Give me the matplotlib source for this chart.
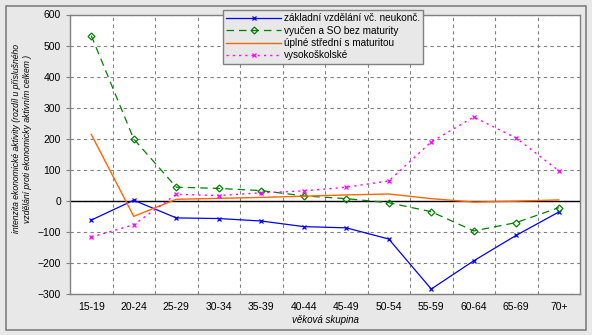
import matplotlib
matplotlib.use("Agg")
import matplotlib.pyplot as plt
from matplotlib.patches import Rectangle
import numpy as np

plt.rcParams['font.family'] = ['Liberation Sans', 'DejaVu Sans']

groups = ['15-19', '20-24', '25-29', '30-34', '35-39', '40-44',
          '45-49', '50-54', '55-59', '60-64', '65-69', '70+']
zakladni = [-62, 2, -55, -57, -65, -83, -87, -123, -284, -193, -111, -36]
vyucen = [532, 199, 44, 40, 33, 16, 7, -6, -35, -97, -70, -22]
uplne = [214, -50, 5, 8, 11, 15, 19, 22, 7, -4, -1, 3]
vysokoskolske = [-117, -77, 21, 17, 26, 32, 44, 64, 190, 270, 202, 97]

fig = plt.figure(figsize=(5.92, 3.35), dpi=100)
fig.patch.set_facecolor('#e8e8e8')
fig.patches.append(Rectangle((6 / 592, 5 / 335), 580 / 592, 324 / 335,
                             transform=fig.transFigure, fill=False,
                             edgecolor='#808080', linewidth=1.2))

ax = fig.add_axes([70 / 592, 1 - 294 / 335, 510 / 592, 279.5 / 335])
ax.set_facecolor('white')
x = np.arange(len(groups))

ax.plot(x, zakladni, color='#0000ff', lw=0.9, marker='x', ms=3, mew=0.9,
        label='základní vzdělání vč. neukonč.')
ax.plot(x, vyucen, color='#008000', lw=0.9, ls=(0, (6, 4)), marker='D', ms=3.5,
        mfc='none', mew=0.9, label='vyučen a SO bez maturity')
ax.plot(x, uplne, color='#ff6600', lw=1.0, label='úplné střední s maturitou')
ax.plot(x, vysokoskolske, color='#ff00ff', lw=1.0, ls=(0, (1.5, 3)), marker='x',
        ms=3, mew=0.9, label='vysokoškolské')

ax.axhline(0, color='black', lw=1.0, zorder=1.5)

ax.set_xlim(-0.5, len(groups) - 0.5)
ax.set_ylim(-300, 600)
ax.set_yticks(range(-300, 601, 100))
ax.set_xticks(x)
ax.set_xticklabels(groups)
ax.set_xticks(np.arange(0.5, len(groups) - 1, 1), minor=True)
ax.tick_params(axis='x', which='both', length=0, labelsize=7.5, pad=6)
ax.tick_params(axis='y', labelsize=7.5, length=3, color='#808080')
ax.grid(axis='y', which='major', color='#808080', ls=(0, (3, 3)), lw=0.8)
ax.grid(axis='x', which='minor', color='#808080', ls=(0, (3, 3)), lw=0.8)
ax.set_axisbelow(True)
for s in ax.spines.values():
    s.set_color('#808080')
    s.set_linewidth(1.0)

ax.set_xlabel('věková skupina', fontsize=7, style='italic', labelpad=2)
ax.set_ylabel('intenzita ekonomické aktivity (rozdíl u příslušného\n'
              'vzdělání proti ekonomicky aktivním celkem )',
              fontsize=6.2, style='italic', labelpad=4, linespacing=1.3,
              y=0.555)

leg = ax.legend(loc='upper left', bbox_to_anchor=(218 / 592, 1 - 5 / 335),
                bbox_transform=fig.transFigure, fontsize=7.2, frameon=True,
                fancybox=False, edgecolor='#808080', facecolor='#e8e8e8',
                framealpha=1, handlelength=5.5, borderpad=0.3, labelspacing=0.25,
                handletextpad=0.3)
leg.get_frame().set_linewidth(1.0)

fig.savefig('out.png', dpi=100, facecolor=fig.get_facecolor())
